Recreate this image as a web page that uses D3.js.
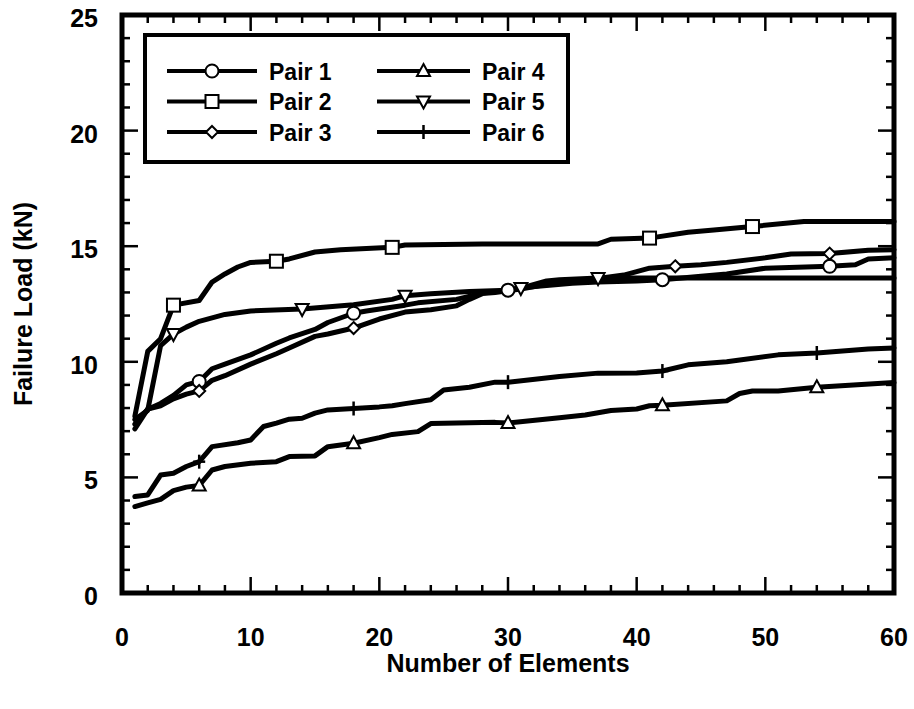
<!DOCTYPE html>
<html>
<head>
<meta charset="utf-8">
<script src="https://cdn.jsdelivr.net/npm/d3@7"></script>
<style>
  body { margin: 0; background: #fff; }
  text { font-family: "Liberation Sans", Arial, sans-serif; font-weight: bold; fill: #000; }
</style>
</head>
<body>
<svg id="chart" width="914" height="709"></svg>
<script>
// values: [number of elements, failure load kN]
const pair1 = [[1,7.3],[2,7.95],[3,8.2],[4,8.55],[5,9.0],[6,9.15],[7,9.7],[8,9.9],[10,10.3],[12,10.8],[13,11.03],[15,11.4],[16,11.7],[18,12.1],[19,12.2],[22,12.45],[23,12.55],[26,12.7],[28,12.97],[30,13.1],[31,13.2],[33,13.3],[35,13.4],[37,13.45],[40,13.5],[42,13.55],[45,13.7],[47,13.8],[50,14.05],[55,14.13],[57,14.2],[58,14.45],[60,14.5]];
const pair2 = [[1,7.65],[2,10.45],[3,11.0],[4,12.45],[6,12.65],[7,13.45],[8,13.8],[9,14.1],[10,14.3],[12,14.35],[13,14.45],[15,14.75],[17,14.85],[21,14.95],[22,15.05],[28,15.1],[37,15.1],[38,15.3],[41,15.35],[44,15.6],[46,15.7],[49,15.85],[53,16.07],[60,16.07]];
const pair3 = [[1,7.1],[2,7.95],[3,8.1],[4,8.4],[5,8.6],[6,8.74],[7,9.2],[8,9.4],[10,9.9],[12,10.35],[13,10.6],[15,11.1],[16,11.2],[18,11.46],[20,11.85],[22,12.15],[24,12.25],[26,12.42],[27,12.7],[28,12.95],[29,13.0],[31,13.15],[33,13.35],[35,13.5],[37,13.6],[39,13.75],[40,13.9],[41,14.05],[43,14.13],[45,14.2],[47,14.3],[50,14.5],[52,14.66],[55,14.68],[58,14.82],[60,14.85]];
const pair4 = [[1,3.74],[2,3.9],[3,4.05],[4,4.43],[5,4.58],[6,4.65],[7,5.32],[8,5.47],[10,5.61],[12,5.68],[13,5.9],[15,5.93],[16,6.33],[18,6.48],[20,6.72],[21,6.86],[23,6.98],[24,7.33],[29,7.38],[30,7.35],[34,7.58],[36,7.7],[38,7.89],[40,7.96],[41,8.1],[42,8.12],[47,8.31],[48,8.63],[49,8.74],[51,8.74],[54,8.9],[60,9.1]];
const pair5 = [[1,7.5],[2,7.9],[3,10.7],[4,11.2],[5,11.5],[6,11.75],[8,12.05],[10,12.2],[14,12.28],[18,12.47],[21,12.7],[22,12.86],[24,12.94],[27,13.04],[30,13.1],[31,13.19],[33,13.5],[34,13.55],[37,13.62],[60,13.62]];
const pair6 = [[1,4.17],[2,4.24],[3,5.1],[4,5.18],[5,5.47],[6,5.68],[7,6.33],[9,6.5],[10,6.62],[11,7.2],[12,7.35],[13,7.52],[14,7.56],[15,7.78],[16,7.92],[18,7.98],[20,8.05],[21,8.1],[22,8.19],[24,8.36],[25,8.78],[27,8.9],[29,9.12],[30,9.12],[34,9.36],[37,9.51],[40,9.52],[42,9.6],[44,9.87],[47,10.0],[51,10.3],[54,10.38],[58,10.55],[60,10.6]];

// where the symbols sit on each line
const marks1 = [6, 18, 30, 42, 55];
const marks2 = [4, 12, 21, 41, 49];
const marks3 = [6, 18, 43, 55];
const marks4 = [6, 18, 30, 42, 54];
const marks5 = [4, 14, 22, 31, 37];
const marks6 = [6, 18, 30, 42, 54];

const seriesNames = ['Pair 1', 'Pair 2', 'Pair 3', 'Pair 4', 'Pair 5', 'Pair 6'];
const xTicks = [0, 10, 20, 30, 40, 50, 60];
const yTicks = [0, 5, 10, 15, 20, 25];

const series = [
    { name: seriesNames[0], data: pair1, marks: marks1, symbol: 'circle' },
    { name: seriesNames[1], data: pair2, marks: marks2, symbol: 'square' },
    { name: seriesNames[2], data: pair3, marks: marks3, symbol: 'diamond' },
    { name: seriesNames[3], data: pair4, marks: marks4, symbol: 'triangle' },
    { name: seriesNames[4], data: pair5, marks: marks5, symbol: 'triangleDown' },
    { name: seriesNames[5], data: pair6, marks: marks6, symbol: 'plus' }
];

const svg = d3.select('#chart');
const plotLeft = 122, plotRight = 894, plotTop = 15, plotBottom = 593;

const x = d3.scaleLinear().domain([0, 60]).range([plotLeft, plotRight]);
const y = d3.scaleLinear().domain([0, 25]).range([plotBottom, plotTop]);

// frame ticks (inward, on all four sides)
const tickG = svg.append('g').attr('stroke', '#000').attr('stroke-width', 2.5);
d3.range(0, 61, 2).forEach(v => {
    const len = v % 10 === 0 ? 16 : 8;
    tickG.append('line').attr('x1', x(v)).attr('x2', x(v)).attr('y1', plotBottom).attr('y2', plotBottom - len);
    tickG.append('line').attr('x1', x(v)).attr('x2', x(v)).attr('y1', plotTop).attr('y2', plotTop + len);
});
d3.range(0, 26, 1).forEach(v => {
    const len = v % 5 === 0 ? 16 : 8;
    tickG.append('line').attr('x1', plotLeft).attr('x2', plotLeft + len).attr('y1', y(v)).attr('y2', y(v));
    tickG.append('line').attr('x1', plotRight).attr('x2', plotRight - len).attr('y1', y(v)).attr('y2', y(v));
});

// tick labels
svg.append('g').selectAll('text').data(xTicks).join('text')
    .attr('x', d => x(d)).attr('y', 646)
    .attr('text-anchor', 'middle').attr('font-size', 25)
    .text(d => d);
svg.append('g').selectAll('text').data(yTicks).join('text')
    .attr('x', 98).attr('y', d => y(d) + 12)
    .attr('text-anchor', 'end').attr('font-size', 25)
    .text(d => d);

// axis titles
svg.append('text')
    .attr('x', 508).attr('y', 672)
    .attr('text-anchor', 'middle').attr('font-size', 25)
    .text('Number of Elements');
svg.append('text')
    .attr('transform', 'translate(32,304) rotate(-90)')
    .attr('text-anchor', 'middle').attr('font-size', 25)
    .text('Failure Load (kN)');

// lines
const line = d3.line().x(d => x(d[0])).y(d => y(d[1]));
svg.append('g').selectAll('path').data(series).join('path')
    .attr('d', d => line(d.data))
    .attr('fill', 'none').attr('stroke', '#000')
    .attr('stroke-width', 5).attr('stroke-linejoin', 'round').attr('stroke-linecap', 'round');

function drawSymbol(g, type, cx, cy) {
    const s = g.append('g').attr('transform', `translate(${cx},${cy})`);
    if (type === 'circle') {
        s.append('circle').attr('r', 6.5).attr('fill', '#fff').attr('stroke', '#000').attr('stroke-width', 2);
    } else if (type === 'square') {
        s.append('rect').attr('x', -6.5).attr('y', -6.5).attr('width', 13).attr('height', 13)
            .attr('fill', '#fff').attr('stroke', '#000').attr('stroke-width', 2);
    } else if (type === 'diamond') {
        s.append('path').attr('d', 'M0,-6L6,0L0,6L-6,0Z')
            .attr('fill', '#fff').attr('stroke', '#000').attr('stroke-width', 2);
    } else if (type === 'triangle') {
        s.append('path').attr('d', 'M0,-7L6.5,5L-6.5,5Z')
            .attr('fill', '#fff').attr('stroke', '#000').attr('stroke-width', 2);
    } else if (type === 'triangleDown') {
        s.append('path').attr('d', 'M0,7L6.5,-5L-6.5,-5Z')
            .attr('fill', '#fff').attr('stroke', '#000').attr('stroke-width', 2);
    } else if (type === 'plus') {
        s.append('line').attr('x1', 0).attr('x2', 0).attr('y1', -7).attr('y2', 7)
            .attr('stroke', '#000').attr('stroke-width', 2.5);
        s.append('line').attr('x1', -6).attr('x2', 6).attr('y1', 0).attr('y2', 0)
            .attr('stroke', '#000').attr('stroke-width', 2.5);
    }
}

// markers
const markG = svg.append('g');
series.forEach(sr => {
    sr.marks.forEach(n => {
        const pt = sr.data.find(d => d[0] === n);
        drawSymbol(markG, sr.symbol, x(pt[0]), y(pt[1]));
    });
});

// legend
const legend = svg.append('g');
legend.append('rect').attr('x', 145).attr('y', 35).attr('width', 423).attr('height', 127)
    .attr('fill', '#fff').attr('stroke', '#000').attr('stroke-width', 4);
series.forEach((sr, i) => {
    const col = Math.floor(i / 3), row = i % 3;
    const ly = 71 + row * 30.5;
    const x0 = col === 0 ? 167 : 377;
    const x1 = col === 0 ? 257 : 470;
    legend.append('line').attr('x1', x0).attr('x2', x1).attr('y1', ly).attr('y2', ly)
        .attr('stroke', '#000').attr('stroke-width', 4);
    drawSymbol(legend, sr.symbol, (x0 + x1) / 2, ly);
    legend.append('text').attr('x', x1 + 12).attr('y', ly + 8.5)
        .attr('font-size', 23).text(sr.name);
});

// plot frame
svg.append('rect').attr('x', plotLeft).attr('y', plotTop).attr('width', plotRight - plotLeft).attr('height', plotBottom - plotTop)
    .attr('fill', 'none').attr('stroke', '#000').attr('stroke-width', 5);
</script>
</body>
</html>
